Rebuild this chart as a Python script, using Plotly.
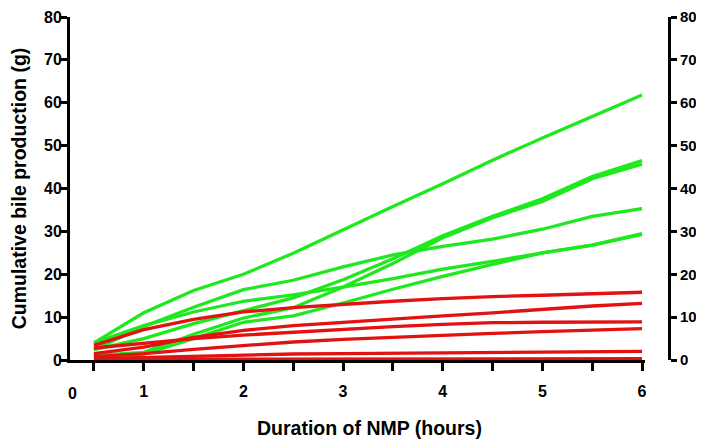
import plotly.graph_objects as go

hours = [0.5, 1.0, 1.5, 2.0, 2.5, 3.0, 3.5, 4.0, 4.5, 5.0, 5.5, 6.0]

green_series = {
    "G1": [4.0, 11.0, 16.2, 20.0, 24.9, 30.4, 35.8, 41.1, 46.6, 51.8, 56.9, 61.8],
    "G2": [2.4, 5.0, 8.5, 11.5, 14.5, 18.7, 23.6, 29.0, 33.5, 37.6, 42.8, 46.5],
    "G3": [1.1, 1.8, 6.0, 9.8, 12.2, 17.0, 22.5, 28.5, 33.2, 37.0, 42.3, 45.7],
    "G4": [2.4, 7.8, 12.3, 16.4, 18.6, 21.7, 24.5, 26.5, 28.2, 30.5, 33.5, 35.3],
    "G5": [4.0, 8.0, 11.2, 13.7, 15.2, 17.0, 19.0, 21.2, 23.0, 25.0, 26.8, 29.3],
    "G6": [0.8, 1.4, 5.0, 8.8, 10.3, 13.3, 16.5, 19.5, 22.3, 25.0, 26.8, 29.5],
}

red_series = {
    "R1": [3.4, 7.1, 9.5, 11.2, 12.2, 13.0, 13.7, 14.3, 14.8, 15.1, 15.4, 15.8],
    "R2": [1.5, 3.0, 5.3, 6.9, 8.0, 8.8, 9.5, 10.3, 11.0, 11.8, 12.6, 13.2],
    "R3": [2.8, 3.9, 5.0, 5.8, 6.5, 7.2, 7.8, 8.3, 8.7, 8.8, 8.9, 8.9],
    "R4": [0.8, 1.5, 2.5, 3.3, 4.2, 4.8, 5.3, 5.8, 6.2, 6.6, 7.0, 7.3],
    "R5": [0.3, 0.6, 0.9, 1.1, 1.4, 1.5, 1.6, 1.7, 1.8, 1.9, 2.0, 2.0],
    "R6": [0.1, 0.2, 0.2, 0.2, 0.2, 0.3, 0.3, 0.3, 0.3, 0.3, 0.3, 0.3],
}

x_tick_vals = [1, 2, 3, 4, 5, 6]
x_tick_text = ["1", "2", "3", "4", "5", "6"]
x_minor_vals = [0.5, 1.5, 2.5, 3.5, 4.5, 5.5]
y_tick_vals = [0, 10, 20, 30, 40, 50, 60, 70, 80]

GREEN = "rgb(30,232,30)"
RED = "rgb(226,18,18)"
FONT = "Liberation Sans"

fig = go.Figure()
for name, vals in green_series.items():
    fig.add_trace(go.Scatter(x=hours, y=vals, mode="lines", name=name,
                             line=dict(color=GREEN, width=3.3), showlegend=False))
for name, vals in red_series.items():
    fig.add_trace(go.Scatter(x=hours, y=vals, mode="lines", name=name,
                             line=dict(color=RED, width=3.3), showlegend=False))

# invisible trace for the right axis
fig.add_trace(go.Scatter(x=[hours[0]], y=[0], yaxis="y2", mode="markers",
                         marker=dict(opacity=0), showlegend=False, hoverinfo="skip"))

tickfont = dict(family=FONT, size=16, color="black", weight="bold")
tickfont_r = dict(family=FONT, size=15, color="black", weight="bold")
titlefont = dict(family=FONT, size=19.5, color="black", weight="bold")

fig.update_layout(
    width=696, height=435,
    margin=dict(l=62, r=35, t=9, b=83, autoexpand=False),
    paper_bgcolor="white", plot_bgcolor="white",
    xaxis=dict(
        domain=[0, 0.96], range=[0.26, 6.03], automargin=False,
        showline=True, linecolor="black", linewidth=3,
        showgrid=False, zeroline=False,
        tickmode="array", tickvals=x_tick_vals, ticktext=x_tick_text,
        ticks="outside", ticklen=8, tickwidth=3, tickcolor="black",
        minor=dict(tickmode="array", tickvals=x_minor_vals, ticks="outside",
                   ticklen=8, tickwidth=3, tickcolor="black", showgrid=False),
        tickfont=tickfont, ticklabelstandoff=7,
    ),
    yaxis=dict(
        range=[0, 80], automargin=False,
        showline=True, linecolor="black", linewidth=3,
        showgrid=False, zeroline=False,
        tickmode="array", tickvals=y_tick_vals,
        ticks="outside", ticklen=8, tickwidth=3, tickcolor="black",
        tickfont=tickfont, ticklabelstandoff=-6, ticklabeloverflow="allow",
        title=dict(text="Cumulative bile production (g)", font=titlefont, standoff=21),
    ),
    yaxis2=dict(
        range=[0, 80], overlaying="y", side="right", anchor="free", position=1.0,
        automargin=False,
        showline=True, linecolor="black", linewidth=3,
        showgrid=False, zeroline=False,
        tickmode="array", tickvals=y_tick_vals,
        ticks="outside", ticklen=6, tickwidth=3, tickcolor="black",
        tickfont=tickfont_r, ticklabelstandoff=0, ticklabeloverflow="allow",
    ),
)

fig.add_annotation(text="0", x=0.29, xref="x", y=0, yref="y",
                   yshift=-33, showarrow=False, font=tickfont)
fig.add_annotation(text="Duration of NMP (hours)", x=0.5, xref="paper",
                   y=0, yref="paper", yshift=-68, yanchor="middle",
                   showarrow=False, font=titlefont)

fig.write_html("out.html")
